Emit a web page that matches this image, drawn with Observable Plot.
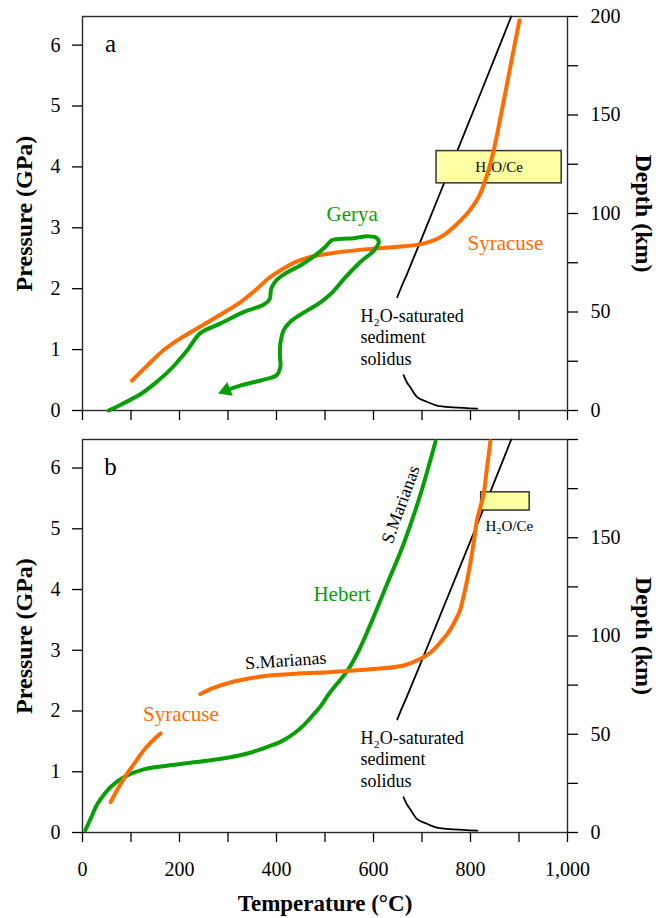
<!DOCTYPE html>
<html><head><meta charset="utf-8">
<script src="https://cdn.jsdelivr.net/npm/d3@7"></script>
<script src="https://cdn.jsdelivr.net/npm/@observablehq/plot@0.6"></script>
<style>
body{margin:0;background:#fff;}
#chart{width:656px;height:918px;}
#chart svg{display:block;}
#chart svg, #chart svg text{font-family:"Liberation Serif","Times New Roman",serif !important;}
</style>
</head><body><div id="chart"></div>
<script>
// ---- axis ticks ----
const tempTicks = [0,100,200,300,400,500,600,700,800,900,1000];
const tempLabels = [0,200,400,600,800,1000];
const pressureTicks = [0,1,2,3,4,5,6];
const depthTicks = [0,25,50,75,100,125,150,175,200];
const depthLabelsA = [0,50,100,150,200];
const depthLabelsB = [0,50,100,150];
const P_MAX = 6.47;          // GPa at top of each panel
const DEPTH_MAX = 200;       // km at top of each panel

// ---- series: [temperature °C, pressure GPa] ----
const solidusUpper = [[649,1.86],[657,2.02],[668,2.22],[700,2.84],[750,3.82],[800,4.80],[850,5.79],[884,6.47]];
const solidusLower = [[662,0.58],[669,0.46],[676,0.38],[690,0.22],[711,0.14],[731,0.08],[766,0.05],[814,0.03]];

const syracuseA = [[102,0.49],[135,0.75],[167,0.99],[205,1.2],[243,1.38],[290,1.6],[326,1.78],[345,1.9],[360,2.0],
  [385,2.18],[408,2.30],[440,2.44],[470,2.52],[520,2.59],[587,2.65],[650,2.69],[690,2.72],[720,2.78],[745,2.88],
  [773,3.07],[795,3.25],[815,3.48],[828,3.72],[845,4.18],[862,4.82],[882,5.64],[901,6.41]];

const geryaA = [[54,0],[80,0.1],[120,0.27],[150,0.45],[181,0.67],[216,0.99],[243,1.27],[285,1.43],[333,1.62],[374,1.74],
  [386,1.83],[389,2.0],[400,2.14],[420,2.26],[449,2.38],[477,2.53],[501,2.69],[515,2.80],[535,2.82],[560,2.83],
  [587,2.86],[605,2.84],[611,2.77],[600,2.62],[573,2.44],[540,2.17],[515,1.94],[490,1.77],[463,1.64],[432,1.48],
  [415,1.32],[408,1.1],[407,0.9],[408,0.72],[400,0.58],[370,0.5],[330,0.42],[296,0.33]];
const geryaArrow = [[296,0.33]];

const hebertB = [[6,0.04],[18,0.25],[30,0.46],[45,0.63],[58,0.75],[85,0.91],[126,1.04],[195,1.12],[264,1.19],[305,1.24],
  [340,1.3],[381,1.41],[410,1.5],[436,1.63],[458,1.78],[477,1.95],[491,2.08],[508,2.28],[530,2.5],[546,2.66],
  [570,3.0],[594,3.43],[628,4.09],[662,4.75],[697,5.57],[728,6.44]];

const syracuseB = [[58,0.5],[75,0.75],[92,0.97],[110,1.17],[126,1.35],[143,1.5],[161,1.63],[200,NaN],
  [243,2.28],[270,2.38],[305,2.47],[340,2.53],[381,2.58],[450,2.62],[508,2.64],[546,2.66],[600,2.69],[662,2.75],
  [697,2.86],[720,2.98],[740,3.15],[755,3.3],[766,3.45],[778,3.65],[786,3.9],[793,4.15],[800,4.45],[808,4.85],
  [813,5.13],[820,5.35],[827,5.57],[834,6.0],[841,6.44]];

// ---- H2O/Ce boxes: [T1, T2, P1, P2] ----
const boxA = [[730,988,3.73,4.26]];
const boxB = [[822,922,5.30,5.60]];

// ---- annotations: [T, P, text] ----
const labelsA_green = [[556,3.23,"Gerya"]];
const labelsA_orange = [[872,2.74,"Syracuse"]];
const labelsB_green = [[535,3.92,"Hebert"]];
const labelsB_orange = [[203,1.95,"Syracuse"]];
const labelsB_black = [[419,2.83,"S.Marianas",-4],[656,5.40,"S.Marianas",-70]];
const solidusLabelA = [[573,1.22,"H₂O-saturated\nsediment\nsolidus"]];
const solidusLabelB = [[573,1.22,"H₂O-saturated\nsediment\nsolidus"]];

const ORANGE = "#ff6c00";
const GREEN = "#06a006";
const FONT = "'Liberation Serif','Times New Roman',serif";
const KM = DEPTH_MAX / P_MAX;

const X = d => d[0], Y = d => d[1];

function commonMarks(depthLabels) {
  return [
    Plot.frame({stroke: "#2a2a2a", strokeWidth: 1.4}),
    Plot.axisY(pressureTicks, {anchor: "left", tickSize: 10, tickPadding: 12, label: null, strokeWidth: 1.3, tickFormat: d => String(d)}),
    Plot.axisY(depthTicks.map(d => d / KM), {anchor: "right", tickSize: 10, tickPadding: 13, label: null, strokeWidth: 1.3,
      tickFormat: p => { const d = Math.round(p * KM); return depthLabels.includes(d) ? String(d) : ""; }}),
    Plot.line(solidusUpper, {x: X, y: Y, stroke: "black", strokeWidth: 1.8, curve: "catmull-rom"}),
    Plot.line(solidusLower, {x: X, y: Y, stroke: "black", strokeWidth: 1.8, curve: "catmull-rom"}),
    Plot.text(["Pressure (GPa)"], {text: d => d, frameAnchor: "left", dx: -58, rotate: -90, fontSize: 24, fontWeight: "bold", textAnchor: "middle", lineAnchor: "middle"}),
    Plot.text(["Depth (km)"], {text: d => d, frameAnchor: "right", dx: 76, rotate: 90, fontSize: 24, fontWeight: "bold", textAnchor: "middle", lineAnchor: "middle"})
  ];
}

const common = {
  width: 656,
  marginLeft: 82,
  marginRight: 89,
  x: {domain: [0, 1000], axis: null},
  y: {domain: [0, P_MAX], axis: null},
  style: {fontFamily: FONT, fontSize: "20px", color: "black", background: "white", overflow: "visible"}
};

const plotA = Plot.plot({
  ...common,
  height: 430,
  marginTop: 16,
  marginBottom: 20,
  marks: [
    ...commonMarks(depthLabelsA),
    Plot.axisX(tempTicks, {anchor: "bottom", tickSize: 10, strokeWidth: 1.3, tickFormat: () => "", label: null}),
    Plot.rect(boxA, {x1: d => d[0], x2: d => d[1], y1: d => d[2], y2: d => d[3], fill: "#ffffa3", stroke: "#333", strokeWidth: 1.5}),
    Plot.text(boxA, {x: d => (d[0] + d[1]) / 2, y: d => (d[2] + d[3]) / 2, text: () => "H₂O/Ce", fontSize: 15}),
    Plot.line(syracuseA, {x: X, y: Y, stroke: ORANGE, strokeWidth: 4, curve: "catmull-rom"}),
    Plot.line(geryaA, {x: X, y: Y, stroke: GREEN, strokeWidth: 4, curve: "catmull-rom"}),
    Plot.dot(geryaArrow, {x: X, y: Y, symbol: "triangle", r: 5.5, fill: GREEN, rotate: 248}),
    Plot.text(labelsA_green, {x: X, y: Y, text: d => d[2], fill: GREEN, fontSize: 21}),
    Plot.text(labelsA_orange, {x: X, y: Y, text: d => d[2], fill: ORANGE, fontSize: 21}),
    Plot.text(solidusLabelA, {x: X, y: Y, text: d => d[2], textAnchor: "start", fontSize: 18, lineHeight: 1.2}),
    Plot.text(["a"], {text: d => d, frameAnchor: "top-left", dx: 28, dy: 27, fontSize: 25, textAnchor: "middle", lineAnchor: "middle"})
  ]
});

const plotB = Plot.plot({
  ...common,
  height: 488,
  marginTop: 9,
  marginBottom: 86,
  marks: [
    ...commonMarks(depthLabelsB),
    Plot.axisX(tempTicks, {anchor: "bottom", tickSize: 10, tickPadding: 19, strokeWidth: 1.3, label: null,
      tickFormat: d => tempLabels.includes(d) ? d3.format(",")(d) : ""}),
    Plot.rect(boxB, {x1: d => d[0], x2: d => d[1], y1: d => d[2], y2: d => d[3], fill: "#ffffa3", stroke: "#333", strokeWidth: 1.5}),
    Plot.text(boxB, {x: d => d[0] + 9, y: d => d[2] - 0.26, text: () => "H₂O/Ce", textAnchor: "start", fontSize: 15}),
    Plot.line(hebertB, {x: X, y: Y, stroke: GREEN, strokeWidth: 4, curve: "catmull-rom"}),
    Plot.line(syracuseB, {x: X, y: Y, stroke: ORANGE, strokeWidth: 4, curve: "catmull-rom"}),
    Plot.text(labelsB_green, {x: X, y: Y, text: d => d[2], fill: GREEN, fontSize: 21}),
    Plot.text(labelsB_orange, {x: X, y: Y, text: d => d[2], fill: ORANGE, fontSize: 21}),
    Plot.text(labelsB_black.slice(0, 1), {x: X, y: Y, text: d => d[2], fontSize: 18, rotate: -4}),
    Plot.text(labelsB_black.slice(1), {x: X, y: Y, text: d => d[2], fontSize: 18, rotate: -70}),
    Plot.text(solidusLabelB, {x: X, y: Y, text: d => d[2], textAnchor: "start", fontSize: 18, lineHeight: 1.2}),
    Plot.text(["b"], {text: d => d, frameAnchor: "top-left", dx: 28, dy: 27, fontSize: 25, textAnchor: "middle", lineAnchor: "middle"}),
    Plot.text(["Temperature (°C)"], {text: d => d, frameAnchor: "bottom", dy: 71, fontSize: 23, fontWeight: "bold", textAnchor: "middle", lineAnchor: "middle"})
  ]
});

const root = document.getElementById("chart");
root.append(plotA, plotB);
</script>
</body></html>
